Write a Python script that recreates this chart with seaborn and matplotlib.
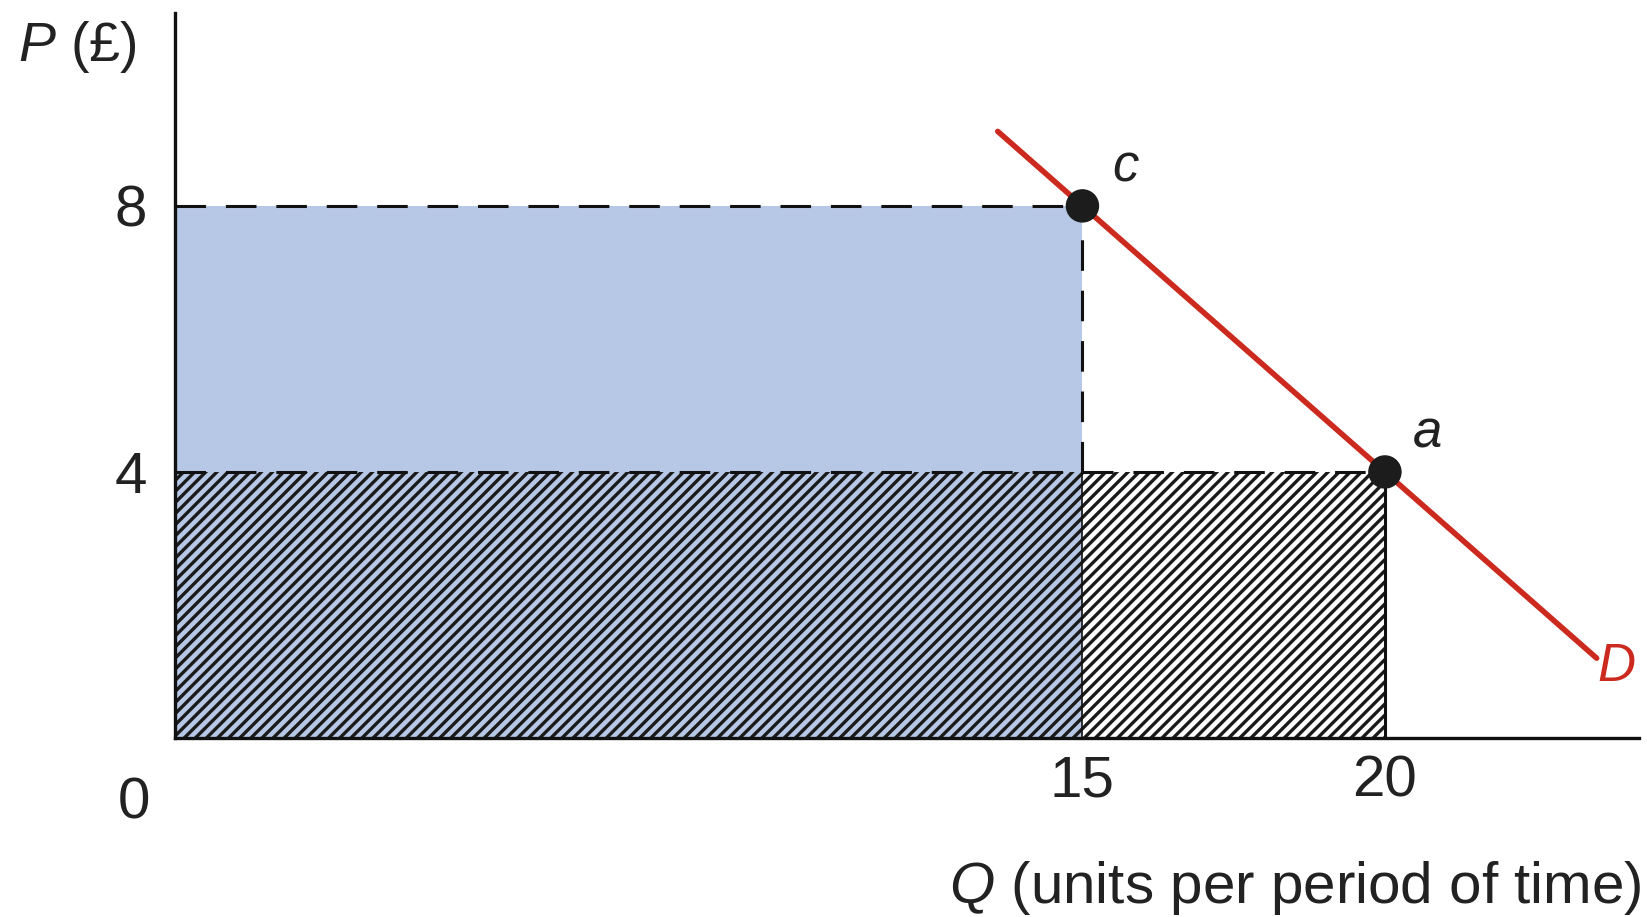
import matplotlib
matplotlib.use("Agg")
import pandas as pd
import seaborn as sns
from matplotlib import pyplot as plt

# -------------------------------------------------------------------
# DATA
# -------------------------------------------------------------------
point_q = [15, 20]
point_p = [8, 4]
point_labels = ["c", "a"]

demand_q = [13.6, 23.5]
demand_p = [9.12, 1.2]

x_ticks = [15, 20]
y_ticks = [4, 8]

# areas: (left, width, bottom, height)
blue_area = (0, 15, 4, 4)
hatch_left = (0, 15, 0, 4)
hatch_right = (15, 5, 0, 4)

BLUE = "#b7c8e6"
RED = "#cc2a1e"
FONT = ["Liberation Sans", "DejaVu Sans"]

# -------------------------------------------------------------------
# STYLE
# -------------------------------------------------------------------
sns.set_theme(style="white")
plt.rcParams["font.family"] = FONT
plt.rcParams["mathtext.fontset"] = "custom"
plt.rcParams["mathtext.it"] = "Liberation Sans:italic"
plt.rcParams["mathtext.rm"] = "Liberation Sans"
plt.rcParams["hatch.linewidth"] = 2.4

W, H = 1647, 917
fig = plt.figure(figsize=(W / 100, H / 100), dpi=100)
ax = fig.add_axes([175 / W, (H - 738) / H, 1464 / W, 725 / H])
ax.set_xlim(0, 24.2)
ax.set_ylim(0, 10.9)

# blue block (price 4..8) and hatched blocks (price 0..4)
ax.bar(blue_area[0], blue_area[3], width=blue_area[1], bottom=blue_area[2],
       align="edge", color=BLUE, linewidth=0, zorder=1)
ax.bar(hatch_left[0], hatch_left[3], width=hatch_left[1], bottom=hatch_left[2],
       align="edge", color=BLUE, edgecolor="#1a1a1a", hatch="///",
       linewidth=0, zorder=1)
ax.bar(hatch_right[0], hatch_right[3], width=hatch_right[1],
       bottom=hatch_right[2], align="edge", color="white",
       edgecolor="#1a1a1a", hatch="///", linewidth=0, zorder=1)

# solid edges of the hatched area
ax.vlines(point_q[1], 0, point_p[1], color="#111111", lw=2.2, zorder=2)
ax.vlines(point_q[0], 0, point_p[1], color="#111111", lw=1.2, zorder=2)

# dashed guide lines
dash = dict(color="#111111", lw=2.2, linestyle=(0, (10, 6.5)), zorder=3)
ax.hlines(point_p[0], 0, point_q[0], **dash)
ax.hlines(point_p[1], 0, point_q[1], **dash)
ax.vlines(point_q[0], point_p[1], point_p[0], **dash)

# demand curve
df_d = pd.DataFrame({"Q": demand_q, "P": demand_p})
sns.lineplot(data=df_d, x="Q", y="P", color=RED, lw=4.0, ax=ax, zorder=4)

# points c and a
df_pts = pd.DataFrame({"Q": point_q, "P": point_p, "lab": point_labels})
sns.scatterplot(data=df_pts, x="Q", y="P", color="#1c1c1c", s=580,
                edgecolor="none", ax=ax, zorder=5)
for q, p, lab in zip(point_q, point_p, point_labels):
    ax.annotate(lab, (q, p), xytext=(31, 28), textcoords="offset points",
                ha="center", va="center", fontsize=38, style="italic",
                color="#222222")

ax.annotate("D", (demand_q[-1], demand_p[-1]), xytext=(14, -6),
            textcoords="offset points", ha="center", va="center",
            fontsize=38, style="italic", color=RED)

# axes
for side in ["top", "right"]:
    ax.spines[side].set_visible(False)
for side in ["left", "bottom"]:
    ax.spines[side].set_color("#111111")
    ax.spines[side].set_linewidth(2.4)
    ax.spines[side].set_zorder(6)

ax.set_xticks(x_ticks)
ax.set_xticklabels([str(v) for v in x_ticks])
ax.set_yticks(y_ticks)
ax.set_yticklabels([str(v) for v in y_ticks])
ax.tick_params(axis="both", length=0, labelsize=42, colors="#222222")
ax.tick_params(axis="x", pad=12)
ax.tick_params(axis="y", pad=20)
ax.set_xlabel("")
ax.set_ylabel("")

ax.text(-0.68, -0.99, "0", ha="center", va="center", fontsize=42,
        color="#222222", clip_on=False)
ax.text(-2.6, 10.39, r"$\mathit{P}$ (£)", ha="left", va="center",
        fontsize=40, color="#222222", clip_on=False)
fig.text(1642 / W, 1 - 888 / H, r"$\mathit{Q}$ (units per period of time)",
         ha="right", va="center", fontsize=42, color="#222222")

fig.savefig("out.png", dpi=100, facecolor="white")
